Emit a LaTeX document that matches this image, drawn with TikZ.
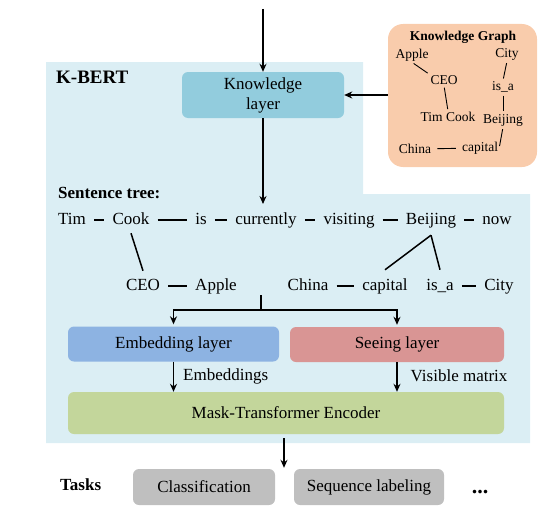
\documentclass[tikz,border=0pt]{standalone}
\usepackage{fontspec}
\setmainfont{Liberation Serif}
\usetikzlibrary{arrows.meta}
\definecolor{panelblue}{RGB}{219,238,244}
\definecolor{layerblue}{RGB}{146,204,221}
\definecolor{graphpeach}{RGB}{249,204,172}
\definecolor{embedblue}{RGB}{141,179,226}
\definecolor{seeingred}{RGB}{217,149,148}
\definecolor{encodergreen}{RGB}{195,214,155}
\definecolor{taskgray}{RGB}{191,191,191}
\newcommand\bodysize{\fontsize{17}{20}\selectfont}
\newcommand\graphsize{\fontsize{13.5}{15}\selectfont}
\tikzset{
  layerbox/.style={rounded corners=6pt, fill=#1, inner sep=0pt,
    font=\bodysize, align=center},
  word/.style={inner sep=0pt, text height=12pt, text depth=4pt, font=\bodysize},
  gword/.style={inner sep=1pt, font=\graphsize},
  title/.style={anchor=west, inner sep=0pt, font=\bodysize\bfseries},
  flow/.style={-{Stealth[length=8pt,width=7pt]}, line width=1.6pt},
  mainflow/.style={flow, line width=2.6pt},
  link/.style={line width=1.5pt, shorten <=8pt, shorten >=8pt},
  tree/.style={line width=1.5pt},
  glink/.style={line width=0.9pt, shorten <=2pt, shorten >=2pt},
}

\begin{document}
\begin{tikzpicture}[x=1pt, y=-1pt]
\useasboundingbox (0,0) rectangle (545,519);
% K-BERT panel (the knowledge graph sits in its cut-out corner)
\fill[panelblue] (46,62) -- (363,62) -- (363,194) -- (530,194)
  -- (530,443) -- (46,443) -- cycle;
\node[title, font=\fontsize{19}{22}\selectfont\bfseries] (kbert) at (56,77) {K-BERT};
% knowledge graph
\node[fill=graphpeach, rounded corners=15pt, minimum width=149pt,
  minimum height=143pt] (kg) at (462.5,95.5) {};
\node[gword, font=\graphsize\bfseries] (kg-title) at (463,37) {Knowledge Graph};
\node[gword] (g-apple) at (412,55) {Apple};
\node[gword] (g-city) at (507,54) {City};
\node[gword] (g-ceo) at (444,80) {CEO};
\node[gword] (g-isa) at (503,87) {is\_a};
\node[gword] (g-timcook) at (448,117) {Tim Cook};
\node[gword] (g-beijing) at (503,120) {Beijing};
\node[gword] (g-china) at (415,149) {China};
\node[gword] (g-capital) at (480,148) {capital};
\draw[glink] (g-apple.south) -- (g-ceo.north west);
\draw[glink] (g-ceo.south) -- (g-timcook.north);
\draw[glink] (g-city.south) -- (g-isa.north);
\draw[glink] (g-isa.south) -- (g-beijing.north);
\draw[glink] (g-beijing.south) -- (g-capital.east);
\draw[glink, shorten <=5pt, shorten >=5pt] (g-china) -- (g-capital);
% layers
\node[layerbox=layerblue, minimum width=162pt, minimum height=46pt]
  (knowledge) at (263,95) {Knowledge\\layer};
\node[layerbox=embedblue, minimum width=211pt, minimum height=35pt]
  (emb) at (173.5,344) {Embedding layer};
\node[layerbox=seeingred, minimum width=214pt, minimum height=35pt]
  (seeing) at (397,344.5) {Seeing layer};
\node[layerbox=encodergreen, minimum width=436pt, minimum height=42pt]
  (encoder) at (286,413) {Mask-Transformer Encoder};
% sentence tree
\node[title] (tree-label) at (58,193) {Sentence tree:};
\node[word] (tim) at (72,220) {Tim};
\node[word] (cook) at (131,220) {Cook};
\node[word] (is) at (201,220) {is};
\node[word] (currently) at (266,220) {currently};
\node[word] (visiting) at (349,220) {visiting};
\node[word] (beijing) at (431,220) {Beijing};
\node[word] (now) at (497,220) {now};
\node[word] (ceo) at (143,286) {CEO};
\node[word] (apple) at (216,286) {Apple};
\node[word] (china) at (308,286) {China};
\node[word] (capital) at (385,286) {capital};
\node[word] (isa) at (440,286) {is\_a};
\node[word] (city) at (499,286) {City};
\foreach \a/\b in {tim/cook, cook/is, is/currently, currently/visiting,
  visiting/beijing, beijing/now, ceo/apple, china/capital, isa/city}
  \draw[link] (\a) -- (\b);
\draw[tree] ([yshift=-5pt]cook.south) -- ([yshift=7pt]ceo.north);
\coordinate (bj-fork) at ([yshift=-7pt]beijing.south);
\draw[tree] (bj-fork) -- ([yshift=8pt]capital.north);
\draw[tree] (bj-fork) -- ([yshift=8pt]isa.north);
% tasks
\node[title] (tasks) at (60,485) {Tasks};
\node[layerbox=taskgray, minimum width=142pt, minimum height=36pt]
  (cls) at (204,487) {Classification};
\node[layerbox=taskgray, minimum width=150pt, minimum height=36pt]
  (seqlab) at (369,487) {Sequence labeling};
\node[inner sep=0pt, anchor=base, font=\fontsize{22}{24}\selectfont\bfseries]
  (more) at (480,493) {...};
% arrows
\coordinate (input) at (263,9);
\coordinate (tree-in) at (263,204);
\draw[mainflow] (input) -- (knowledge.north);
\draw[mainflow] (kg.west |- knowledge.east) -- (knowledge.east);
\draw[mainflow] (knowledge.south) -- (tree-in);
\coordinate (split-top) at (261,295);
\coordinate (split) at (261,310);
\draw[line width=1.4pt] (split-top) -- (split);
\draw[flow, line width=1.4pt] (split) -| ([yshift=2pt]emb.north);
\draw[flow, line width=1.4pt] (split) -| ([yshift=2pt]seeing.north);
\draw[flow, line width=1.4pt] (emb.south) -- (emb.south |- encoder.north)
  node[word, midway, right=9pt] (emb-label) {Embeddings};
\draw[flow, line width=1.4pt] (seeing.south) -- (seeing.south |- encoder.north)
  node[word, midway, right=13pt] (vis-label) {Visible matrix};
\draw[flow] ([xshift=-2pt,yshift=-4pt]encoder.south)
  -- ([xshift=-2pt,yshift=1pt]encoder.south |- cls.north);
\end{tikzpicture}
\end{document}
